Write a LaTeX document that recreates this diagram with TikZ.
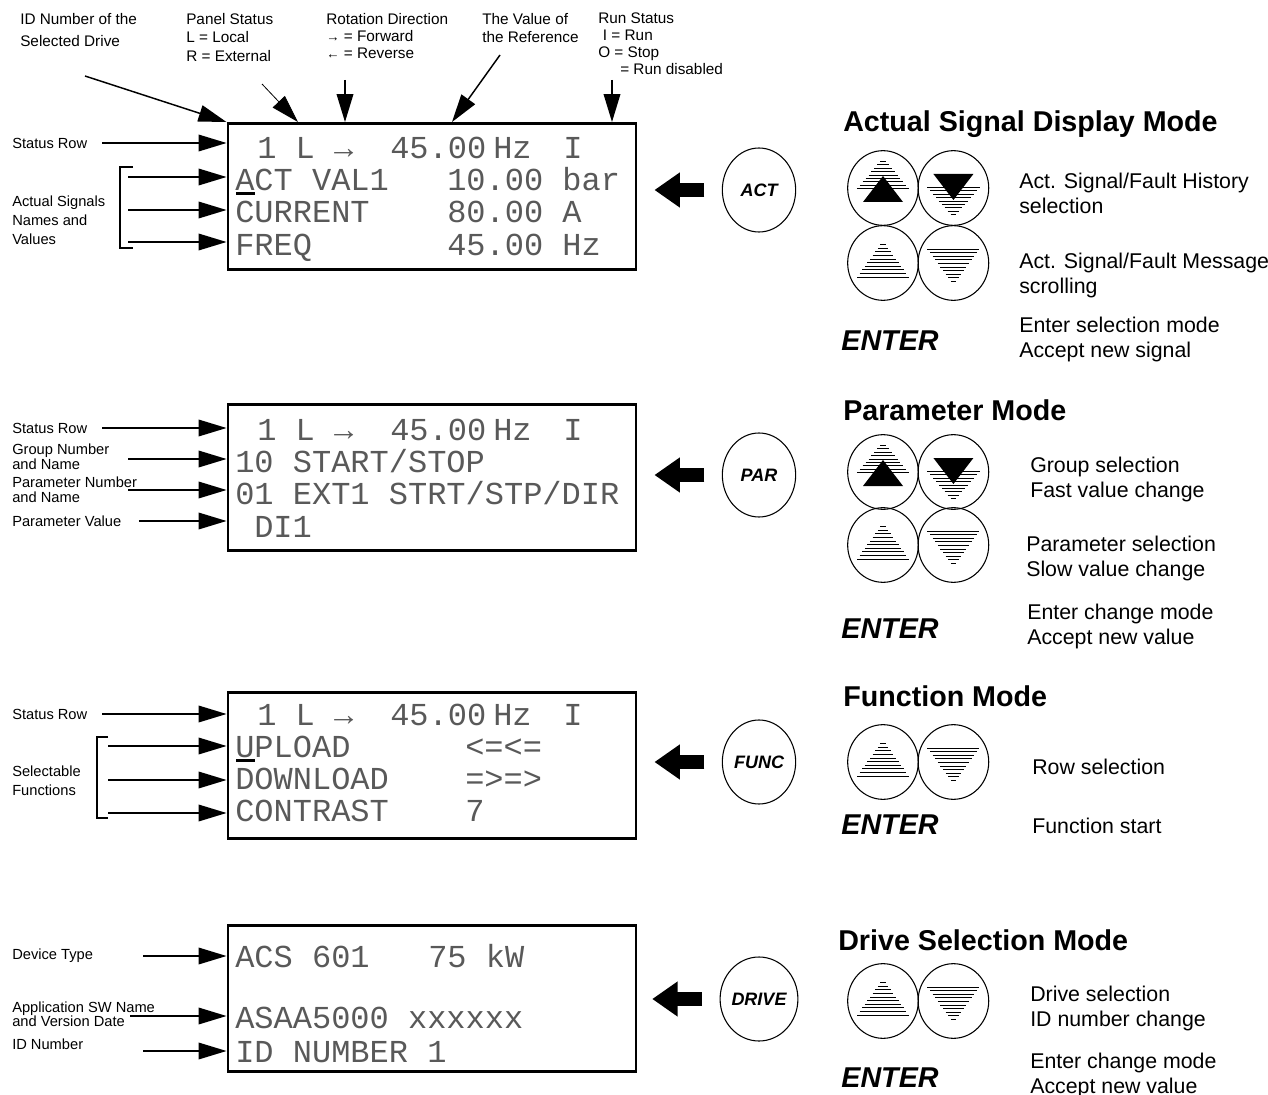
\documentclass[tikz,border=0pt]{standalone}
\usepackage{fontspec}
\setmainfont{Liberation Sans}
\newfontfamily\lcdfont{Liberation Mono}
\usetikzlibrary{arrows.meta,shapes.geometric,positioning}

\newcommand\rotarrow[1]{{\fontsize{10}{10}\selectfont #1}}

\tikzset{
  panel/.style={draw, line width=2.2pt, minimum width=306pt, minimum height=109.5pt, inner sep=0pt},
  lcd/.style={font=\lcdfont\fontsize{24}{24}\selectfont, text=black!65, anchor=west, inner sep=0pt, text height=16pt, text depth=0pt},
  callout/.style={line width=1.1pt, -{Triangle[length=21pt,width=12.5pt]}},
  fatarrow/.style={line width=10.5pt, -{Triangle[length=19pt,width=25pt]}},
  cursor/.style={line width=2pt},
  bracket/.style={line width=1.1pt},
  modekey/.style={draw, ellipse, line width=0.8pt, minimum width=55pt, minimum height=63pt, inner sep=0pt, font=\bfseries\itshape\fontsize{13.5}{13.5}\selectfont},
  arrowkey/.style={draw, ellipse, line width=0.8pt, minimum width=53pt, minimum height=56pt, inner sep=0pt},
  modetitle/.style={font=\bfseries\fontsize{21.5}{24}\selectfont, anchor=west, inner sep=0pt},
  enterkey/.style={font=\bfseries\itshape\fontsize{21.5}{24}\selectfont, inner sep=0pt},
  desc/.style={font=\fontsize{16}{18.75}\selectfont, align=left, anchor=west, inner sep=0pt},
  side/.style={font=\fontsize{11}{13}\selectfont, align=left, anchor=west, inner sep=0pt},
  toplbl/.style={align=left, anchor=north west, inner sep=0pt},
  hatch/.style={line width=0.65pt},
  % arrow keys: hatched triangles, fast ones with a solid triangle (pics are not flipped, y points up)
  slowup/.pic={
    \foreach \k in {1,...,10}
      \draw[hatch] (-2.6*\k,22-3.6*\k) -- (2.6*\k,22-3.6*\k);
  },
  slowdown/.pic={
    \foreach \k in {1,...,10}
      \draw[hatch] (-2.6*\k,-22+3.6*\k) -- (2.6*\k,-22+3.6*\k);
  },
  fastup/.pic={
    \foreach \k in {1,...,9}
      \draw[hatch] (-2.9*\k,30-3.4*\k) -- (2.9*\k,30-3.4*\k);
    \fill (0,12) -- (20,-14) -- (-20,-14) -- cycle;
  },
  fastdown/.pic={
    \foreach \k in {1,...,9}
      \draw[hatch] (-2.9*\k,-30+3.4*\k) -- (2.9*\k,-30+3.4*\k);
    \fill (0,-12) -- (20,14) -- (-20,14) -- cycle;
  }
}

\begin{document}
\begin{tikzpicture}[x=0.75pt,y=0.75pt,yscale=-1,xscale=1]
  \useasboundingbox (0,0) rectangle (1268,1095);

  % Panels
  \node[panel] (pnl1) at (432,196.5) {};
  \node[panel] (pnl2) at (432,477.5) {};
  \node[panel] (pnl3) at (432,765.5) {};
  \node[panel] (pnl4) at (432,998.5) {};

  % Status rows
  \foreach \y/\n in {148/1,430/2,715/3} {
    \node[lcd] (s\n a) at (257,\y) {1 L →};
    \node[lcd] (s\n b) at (390,\y) {45.00};
    \node[lcd] (s\n c) at (493,\y) {Hz};
    \node[lcd] (s\n d) at (563,\y) {I};
  }

  % Actual signal rows
  \node[lcd] (r12) at (235,180) {ACT VAL1};
  \node[lcd] (v12) at (447,180) {10.00 bar};
  \node[lcd] (r13) at (235,212) {CURRENT};
  \node[lcd] (v13) at (447,212) {80.00 A};
  \node[lcd] (r14) at (235,245) {FREQ};
  \node[lcd] (v14) at (447,245) {45.00 Hz};
  \draw[cursor] (r12.south west) ++(1,2.5) -- ++(19,0);

  % Parameter rows
  \node[lcd] (r22) at (235,462) {10 START/STOP};
  \node[lcd] (r23) at (235,494) {01 EXT1 STRT/STP/DIR};
  \node[lcd] (r24) at (254,527) {DI1};

  % Function rows
  \node[lcd] (r32) at (235,747) {UPLOAD};
  \node[lcd] (v32) at (465,747) {<=<=};
  \node[lcd] (r33) at (235,779) {DOWNLOAD};
  \node[lcd] (v33) at (465,779) {=>=>};
  \node[lcd] (r34) at (235,811) {CONTRAST};
  \node[lcd] (v34) at (465,811) {7};
  \draw[cursor] (r32.south west) ++(1,2.5) -- ++(19,0);

  % Drive rows
  \node[lcd] (r41) at (235,957) {ACS 601};
  \node[lcd] (v41) at (428,957) {75 kW};
  \node[lcd] (r42) at (235,1018) {ASAA5000 xxxxxx};
  \node[lcd] (r43) at (235,1052) {ID NUMBER 1};

  % Top labels
  \node[toplbl, font=\fontsize{11.5}{16.5}\selectfont] (idlbl) at (20,13) {ID Number of the\\Selected Drive};
  \node[toplbl, font=\fontsize{11.5}{13.9}\selectfont] (pslbl) at (186,13) {Panel Status\\L = Local\\R = External};
  \node[toplbl, font=\fontsize{11.5}{12.8}\selectfont] (rotlbl) at (326,13) {Rotation Direction\\\rotarrow{→} = Forward\\\rotarrow{←} = Reverse};
  \node[toplbl, font=\fontsize{11.5}{13.5}\selectfont] (reflbl) at (482,13) {The Value of\\the Reference};
  \node[toplbl, font=\fontsize{11.5}{12.75}\selectfont] (runlbl) at (598,13) {Run Status\\\hspace{3.5pt}I = Run\\O = Stop\\\hspace{16.5pt}= Run disabled};

  \coordinate (idtail) at (85,76);
  \coordinate (pstail) at (262,84);
  \coordinate (pshead) at (298,0 |- pnl1.north);
  \coordinate (rottail) at (345,80);
  \coordinate (reftail) at (500,55);
  \coordinate (refhead) at (452,0 |- pnl1.north);
  \coordinate (runtail) at (612,80);
  \draw[callout] (idtail) -- (pnl1.north west);
  \draw[callout, line width=0.6pt] (pstail) -- (pshead);
  \draw[callout] (rottail) -- (rottail |- pnl1.north);
  \draw[callout] (reftail) -- (refhead);
  \draw[callout] (runtail) -- (runtail |- pnl1.north);

  % Left labels, panel 1
  \node[side] (sr1) at (12,143) {Status Row};
  \draw[callout] ([xshift=11pt]sr1.east) -- (sr1 -| pnl1.west);
  \node[side, font=\fontsize{11}{14.25}\selectfont] (asig) at (12,220) {Actual Signals\\Names and\\Values};
  \draw[bracket] (133,167) -- (120,167) -- (120,248) -- (133,248);
  \foreach \y [count=\i] in {177,210,242} {
    \coordinate (b1\i) at (128,\y);
    \draw[callout] (b1\i) -- (b1\i -| pnl1.west);
  }

  % Left labels, panel 2
  \node[side] (sr2) at (12,428) {Status Row};
  \draw[callout] ([xshift=11pt]sr2.east) -- (sr2 -| pnl2.west);
  \node[side, font=\fontsize{11}{11.25}\selectfont] (grp) at (12,456.5) {Group Number\\and Name};
  \coordinate (grpa) at (128,459);
  \draw[callout] (grpa) -- (grpa -| pnl2.west);
  \node[side, font=\fontsize{11}{11.25}\selectfont] (prm) at (12,490) {Parameter Number\\and Name};
  \coordinate (prma) at (128,490);
  \draw[callout] (prma) -- (prma -| pnl2.west);
  \node[side] (pval) at (12,521) {Parameter Value};
  \draw[callout] ([xshift=13pt]pval.east) -- (pval -| pnl2.west);

  % Left labels, panel 3
  \node[side] (sr3) at (12,714) {Status Row};
  \draw[callout] ([xshift=11pt]sr3.east) -- (sr3 -| pnl3.west);
  \node[side, font=\fontsize{11}{14.25}\selectfont] (selfn) at (12,780.5) {Selectable\\Functions};
  \draw[bracket] (108,737) -- (97,737) -- (97,818) -- (108,818);
  \foreach \y [count=\i] in {746,780,813} {
    \coordinate (b3\i) at (108,\y);
    \draw[callout] (b3\i) -- (b3\i -| pnl3.west);
  }

  % Left labels, panel 4
  \node[side] (dev) at (12,956) {Device Type};
  \coordinate (deva) at (143,956);
  \draw[callout] (deva) -- (deva -| pnl4.west);
  \node[side, font=\fontsize{11}{10.5}\selectfont] (app) at (12,1014.5) {Application SW Name\\and Version Date};
  \coordinate (appa) at (130,1016);
  \draw[callout] (appa) -- (appa -| pnl4.west);
  \node[side] (idn) at (12,1044) {ID Number};
  \coordinate (idna) at (143,1051);
  \draw[callout] (idna) -- (idna -| pnl4.west);

  % Actual Signal Display Mode
  \node[modekey] (actkey) at (759,190) {ACT};
  \draw[fatarrow] ([xshift=-13pt]actkey.west) -- ++(-50,0);
  \node[modetitle] (actttl) at (843,124) {Actual Signal Display Mode};
  \node[arrowkey] (actfu) at (883,188) {};
  \node[arrowkey, right=-1pt of actfu] (actfd) {};
  \node[arrowkey] (actsu) at (883,263) {};
  \node[arrowkey, right=-1pt of actsu] (actsd) {};
  \pic at (actfu) {fastup};
  \pic at (actfd) {fastdown};
  \pic at (actsu) {slowup};
  \pic at (actsd) {slowdown};
  \node[enterkey] (actent) at (890,341) {ENTER};
  \node[desc] (actd1) at (1019,193.5) {Act. Signal/Fault History\\selection};
  \node[desc] (actd2) at (1019,275) {Act. Signal/Fault Message\\scrolling};
  \node[desc] (actd3) at (1019,339) {Enter selection mode\\Accept new signal};

  % Parameter Mode
  \node[modekey] (parkey) at (759,475) {PAR};
  \draw[fatarrow] ([xshift=-13pt]parkey.west) -- ++(-50,0);
  \node[modetitle] (parttl) at (843,410) {Parameter Mode};
  \node[arrowkey] (parfu) at (883,472) {};
  \node[arrowkey, right=-1pt of parfu] (parfd) {};
  \node[arrowkey] (parsu) at (883,545) {};
  \node[arrowkey, right=-1pt of parsu] (parsd) {};
  \pic at (parfu) {fastup};
  \pic at (parfd) {fastdown};
  \pic at (parsu) {slowup};
  \pic at (parsd) {slowdown};
  \node[enterkey] (parent) at (890,629) {ENTER};
  \node[desc] (pard1) at (1030,479) {Group selection\\Fast value change};
  \node[desc] (pard2) at (1026,558) {Parameter selection\\Slow value change};
  \node[desc] (pard3) at (1027,626) {Enter change mode\\Accept new value};

  % Function Mode
  \node[modekey] (fnkey) at (759,762) {FUNC};
  \draw[fatarrow] ([xshift=-13pt]fnkey.west) -- ++(-50,0);
  \node[modetitle] (fnttl) at (843,696) {Function Mode};
  \node[arrowkey] (fnsu) at (883,762) {};
  \node[arrowkey, right=-1pt of fnsu] (fnsd) {};
  \pic at (fnsu) {slowup};
  \pic at (fnsd) {slowdown};
  \node[enterkey] (fnent) at (890,825) {ENTER};
  \node[desc] (fnd1) at (1032,767) {Row selection};
  \node[desc] (fnd2) at (1032,826) {Function start};

  % Drive Selection Mode
  \node[modekey] (drvkey) at (759,999) {DRIVE};
  \draw[fatarrow] ([xshift=-13pt]drvkey.west) -- ++(-50,0);
  \node[modetitle] (drvttl) at (838,940) {Drive Selection Mode};
  \node[arrowkey] (drvsu) at (883,1001) {};
  \node[arrowkey, right=-1pt of drvsu] (drvsd) {};
  \pic at (drvsu) {slowup};
  \pic at (drvsd) {slowdown};
  \node[enterkey] (drvent) at (890,1078) {ENTER};
  \node[desc] (drvd1) at (1030,1008) {Drive selection\\ID number change};
  \node[desc] (drvd2) at (1030,1075) {Enter change mode\\Accept new value};
\end{tikzpicture}
\end{document}
